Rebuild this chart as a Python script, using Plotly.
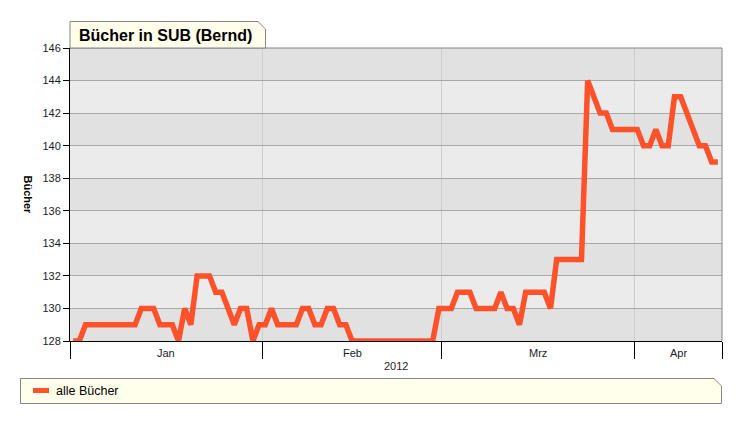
import pandas as pd
import plotly.graph_objects as go

# ---------------- data ----------------
title_text = "Bücher in SUB (Bernd)"
y_title = "Bücher"
series_name = "alle Bücher"
start_date = "2012-01-01 12:00"
books = [
    128, 128, 129, 129, 129, 129, 129, 129, 129, 129,
    129, 130, 130, 130, 129, 129, 129, 128, 130, 129,
    132, 132, 132, 131, 131, 130, 129, 130, 130, 128,
    129, 129, 130, 129, 129, 129, 129, 130, 130, 129,
    129, 130, 130, 129, 129, 128, 128, 128, 128, 128,
    128, 128, 128, 128, 128, 128, 128, 128, 128, 130,
    130, 130, 131, 131, 131, 130, 130, 130, 130, 131,
    130, 130, 129, 131, 131, 131, 131, 130, 133, 133,
    133, 133, 133, 144, 143, 142, 142, 141, 141, 141,
    141, 141, 140, 140, 141, 140, 140, 143, 143, 142,
    141, 140, 140, 139, 139,
]
month_starts = ["2012-01-01", "2012-02-01", "2012-03-01", "2012-04-01"]
month_labels = ["Jan", "Feb", "Mrz", "Apr"]
year_label = "2012"
x_range = ["2012-01-01 00:00", "2012-04-15 04:00"]
y_ticks = [128, 130, 132, 134, 136, 138, 140, 142, 144, 146]

dates = pd.date_range(start_date, periods=len(books), freq="D")

# ---------------- layout helpers (pixel -> paper) ----------------
L, R, T, B = 70, 722, 48, 341
W, H = 741, 423
def px(x):
    return (x - L) / (R - L)
def py(y):
    return (B - y) / (B - T)

LINE_COLOR = "#ff512a"
FILL_YELLOW = "#ffffec"
BORDER = "#858585"
FONT = "Liberation Sans, Arial, sans-serif"

fig = go.Figure()
fig.add_trace(go.Scatter(
    x=dates, y=books, mode="lines", name=series_name,
    line=dict(color=LINE_COLOR, width=5.5), showlegend=False,
))

shapes = []
# alternating background bands
for i in range(len(y_ticks) - 1):
    if i % 2 == 0:
        shapes.append(dict(type="rect", xref="paper", yref="y", x0=0, x1=1,
                           y0=y_ticks[i], y1=y_ticks[i + 1],
                           fillcolor="#e1e1e1", line=dict(width=0), layer="below"))
# top and right border
shapes.append(dict(type="line", xref="paper", yref="paper", x0=0, x1=1, y0=1, y1=1,
                   line=dict(color=BORDER, width=1)))
shapes.append(dict(type="line", xref="paper", yref="paper", x0=1, x1=1, y0=0, y1=1,
                   line=dict(color=BORDER, width=1)))
# title tab
tab = [(70, 48), (70, 21.5), (258, 21.5), (265.5, 29), (265.5, 48)]
path = "M " + " L ".join(f"{px(a):.5f},{py(b):.5f}" for a, b in tab) + " Z"
shapes.append(dict(type="path", xref="paper", yref="paper", path=path,
                   fillcolor=FILL_YELLOW, line=dict(color=BORDER, width=1)))
# legend box
lg = [(20.5, 378.5), (714, 378.5), (721.5, 386), (721.5, 403.5), (20.5, 403.5)]
path = "M " + " L ".join(f"{px(a):.5f},{py(b):.5f}" for a, b in lg) + " Z"
shapes.append(dict(type="path", xref="paper", yref="paper", path=path,
                   fillcolor=FILL_YELLOW, line=dict(color=BORDER, width=1)))
# legend symbol
shapes.append(dict(type="line", xref="paper", yref="paper",
                   x0=px(33), x1=px(49), y0=py(390.5), y1=py(390.5),
                   line=dict(color=LINE_COLOR, width=5)))

annotations = []
annotations.append(dict(text=f"<b>{title_text}</b>", xref="paper", yref="paper",
                        x=px(76.5), y=py(35), xanchor="left", yanchor="middle",
                        showarrow=False, font=dict(size=16, color="#000", family=FONT)))
annotations.append(dict(text=f"<b>{y_title}</b>", xref="paper", yref="paper",
                        x=px(28), y=0.5, xanchor="center", yanchor="middle",
                        textangle=90, showarrow=False,
                        font=dict(size=11, color="#000", family=FONT)))
annotations.append(dict(text=series_name, xref="paper", yref="paper",
                        x=px(54), y=py(390.5), xanchor="left", yanchor="middle",
                        showarrow=False, font=dict(size=12.5, color="#000", family=FONT)))
# month labels centred in visible part of each month
starts = [pd.Timestamp(m) for m in month_starts]
end = pd.Timestamp(x_range[1])
for i, lab in enumerate(month_labels):
    s = starts[i]
    e = starts[i + 1] if i + 1 < len(starts) else end
    e = min(e, end)
    mid = s + (e - s) / 2
    annotations.append(dict(text=lab, xref="x", yref="paper", x=mid, y=py(353),
                            xanchor="center", yanchor="middle", showarrow=False,
                            font=dict(size=11, color="#1a1a2a", family=FONT)))
mid_all = pd.Timestamp(x_range[0]) + (end - pd.Timestamp(x_range[0])) / 2
annotations.append(dict(text=year_label, xref="x", yref="paper", x=mid_all, y=py(365.5),
                        xanchor="center", yanchor="middle", showarrow=False,
                        font=dict(size=11, color="#1a1a2a", family=FONT)))

fig.update_layout(
    width=W, height=H,
    margin=dict(l=L, r=W - R, t=T, b=H - B),
    paper_bgcolor="white", plot_bgcolor="#ebebeb",
    showlegend=False,
    shapes=shapes, annotations=annotations,
    font=dict(family=FONT, size=11, color="#1a1a1a"),
    xaxis=dict(
        type="date", range=x_range,
        tickvals=month_starts + [x_range[1]], showticklabels=False,
        ticks="outside", ticklen=17, tickcolor="#000", tickwidth=1,
        showgrid=True, gridcolor="#cdcdcd", gridwidth=1,
        showline=True, linecolor="#000", linewidth=1,
        zeroline=False, fixedrange=True,
    ),
    yaxis=dict(
        range=[y_ticks[0], y_ticks[-1]], tickvals=y_ticks,
        ticks="outside", ticklen=6, tickcolor="#000", tickwidth=1,
        showgrid=True, gridcolor="#a8a8a8", gridwidth=1,
        showline=True, linecolor="#000", linewidth=1,
        zeroline=False, tickfont=dict(size=11, color="#1a1a2a"),
        fixedrange=True,
    ),
)

fig.write_html("out.html", post_script="document.body.style.margin='0';",
               config={"displayModeBar": False})
